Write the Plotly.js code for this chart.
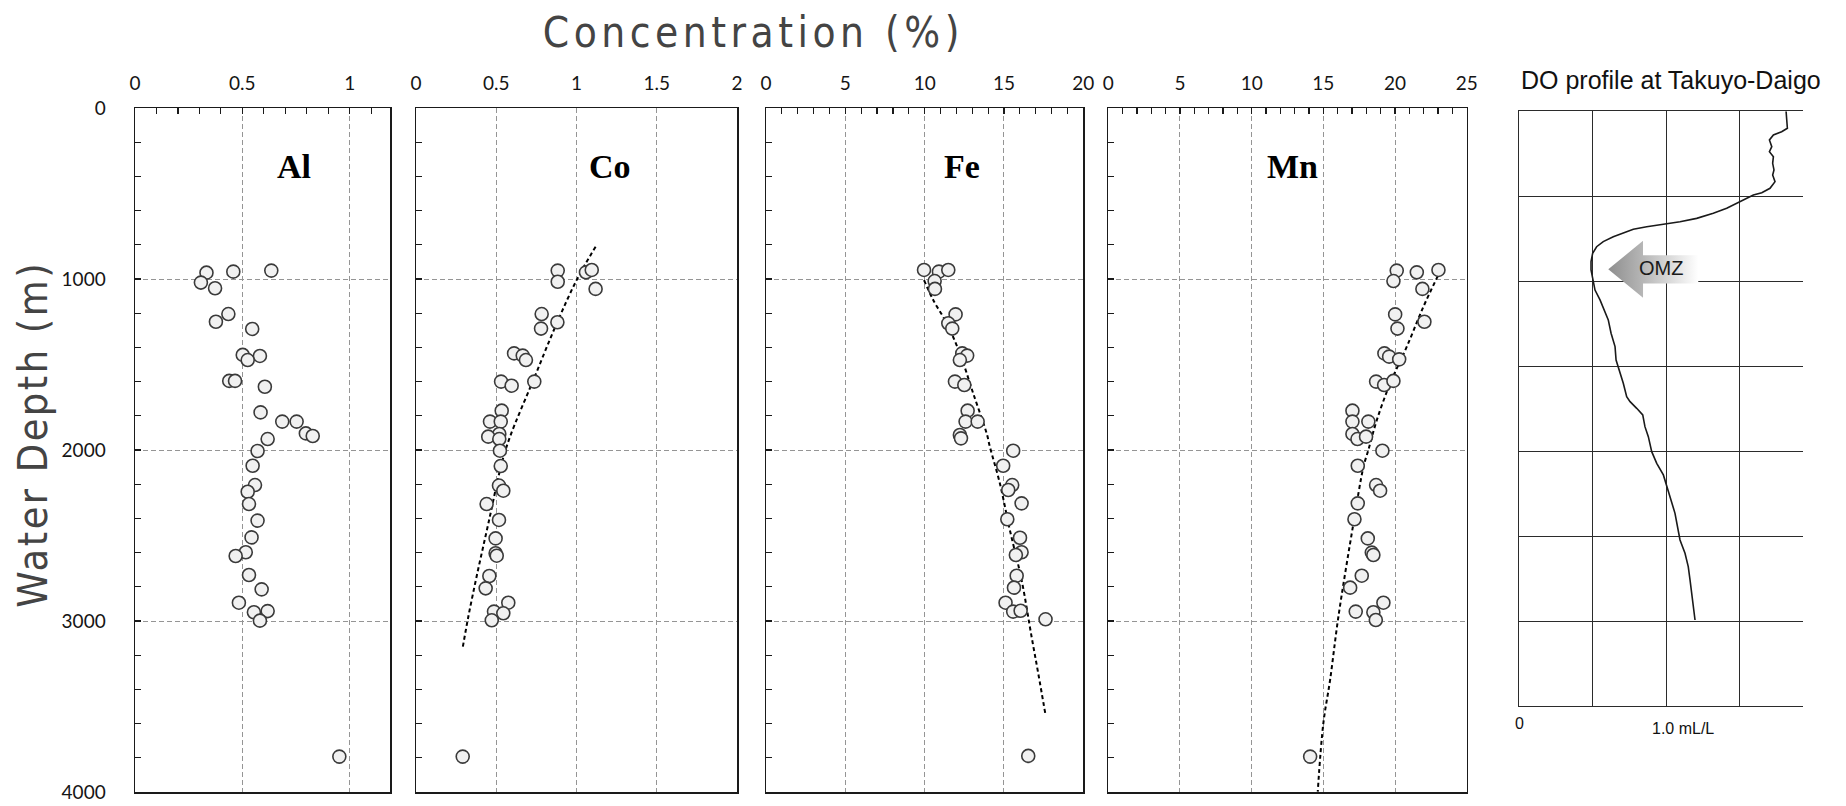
<!DOCTYPE html>
<html>
<head>
<meta charset="utf-8">
<script src="https://cdn.plot.ly/plotly-3.0.1.min.js"></script>
<style>
  html, body { margin: 0; padding: 0; background: #fff; }
  #chart { width: 1846px; height: 806px; }
  .annotation[data-index="0"] text { letter-spacing: 4.5px; }
  .annotation[data-index="1"] text { letter-spacing: 2.5px; }
</style>
</head>
<body>
<div id="chart"></div>
<script>
// ---------------- data ----------------
const depthAl = [963, 957, 951, 1021, 1054, 1205, 1250, 1292, 1444, 1450, 1474, 1596, 1596, 1630, 1780, 1834, 1834, 1903, 1918, 1936, 2006, 2092, 2205, 2244, 2316, 2413, 2511, 2598, 2620, 2731, 2815, 2893, 2949, 2942, 2998, 3793];
const al = [0.333, 0.458, 0.635, 0.307, 0.373, 0.435, 0.377, 0.546, 0.502, 0.582, 0.525, 0.439, 0.466, 0.605, 0.585, 0.686, 0.753, 0.796, 0.828, 0.618, 0.571, 0.548, 0.559, 0.525, 0.531, 0.571, 0.543, 0.516, 0.469, 0.531, 0.590, 0.484, 0.554, 0.618, 0.582, 0.952];

const depthCo = [951, 1016, 961, 947, 1058, 1205, 1253, 1290, 1435, 1448, 1474, 1600, 1624, 1600, 1770, 1834, 1834, 1906, 1922, 1936, 2004, 2094, 2208, 2238, 2316, 2409, 2517, 2604, 2618, 2737, 2809, 2893, 2945, 2955, 2996, 3793];
const co = [0.883, 0.883, 1.059, 1.095, 1.119, 0.783, 0.881, 0.779, 0.611, 0.665, 0.685, 0.530, 0.596, 0.737, 0.534, 0.461, 0.528, 0.519, 0.450, 0.519, 0.523, 0.528, 0.517, 0.544, 0.440, 0.517, 0.496, 0.496, 0.503, 0.457, 0.434, 0.575, 0.486, 0.544, 0.472, 0.291];
const coTrendX = [1.119, 1.001, 0.877, 0.731, 0.586, 0.534, 0.451, 0.382, 0.326, 0.289];
const coTrendD = [811, 1006, 1259, 1591, 1922, 2078, 2429, 2721, 2975, 3166];

const depthFe = [947, 957, 947, 1012, 1058, 1207, 1259, 1290, 1435, 1448, 1474, 1600, 1620, 1770, 1834, 1834, 1912, 1932, 2004, 2092, 2205, 2234, 2312, 2405, 2513, 2598, 2614, 2735, 2805, 2893, 2945, 2940, 2990, 3789];
const fe = [9.96, 10.90, 11.49, 10.63, 10.65, 11.95, 11.49, 11.74, 12.37, 12.68, 12.22, 11.91, 12.50, 12.71, 12.58, 13.34, 12.22, 12.29, 15.58, 14.95, 15.52, 15.27, 16.11, 15.21, 16.01, 16.11, 15.75, 15.80, 15.63, 15.10, 15.58, 16.05, 17.62, 16.53];
const feTrendX = [9.96, 10.54, 11.39, 12.22, 13.06, 13.91, 14.11, 14.74, 15.37, 16.11, 16.74, 17.16, 17.62];
const feTrendD = [1006, 1123, 1259, 1435, 1669, 1903, 1981, 2195, 2468, 2760, 3092, 3306, 3550];

const depthMn = [951, 1012, 961, 947, 1058, 1207, 1250, 1290, 1435, 1454, 1470, 1600, 1620, 1596, 1770, 1834, 1834, 1906, 1936, 1922, 2004, 2092, 2205, 2238, 2312, 2405, 2517, 2600, 2614, 2735, 2805, 2893, 2945, 2949, 2994, 3793];
const mn = [20.12, 19.89, 21.52, 23.03, 21.91, 20.01, 22.05, 20.17, 19.26, 19.59, 20.29, 18.68, 19.24, 19.89, 17.03, 17.03, 18.14, 17.03, 17.38, 17.98, 19.12, 17.40, 18.68, 18.96, 17.40, 17.17, 18.10, 18.38, 18.49, 17.68, 16.87, 19.19, 17.26, 18.49, 18.66, 14.08];
const mnTrendX = [22.99, 21.98, 20.82, 19.66, 18.73, 18.14, 17.80, 17.10, 16.05, 15.47, 15.0, 14.61];
const mnTrendD = [982, 1162, 1396, 1610, 1825, 2000, 2098, 2429, 2975, 3345, 3598, 3998];

// DO profile (mL/L) vs depth (m)
const doVal = [1.813, 1.822, 1.783, 1.727, 1.700, 1.716, 1.700, 1.727, 1.722, 1.731, 1.722, 1.738, 1.704, 1.648, 1.591, 1.546, 1.478, 1.410, 1.319, 1.206, 1.093, 0.980, 0.867, 0.776, 0.708, 0.640, 0.572, 0.527, 0.500, 0.489, 0.489, 0.500, 0.516, 0.550, 0.577, 0.606, 0.625, 0.652, 0.659, 0.681, 0.708, 0.731, 0.754, 0.799, 0.840, 0.855, 0.878, 0.901, 0.935, 0.980, 1.003, 1.025, 1.059, 1.082, 1.093, 1.127, 1.149, 1.161, 1.172, 1.183, 1.195];
const doDepth = [0, 100, 120, 139, 169, 208, 238, 267, 306, 345, 375, 414, 453, 479, 493, 512, 541, 571, 600, 630, 650, 663, 679, 694, 718, 738, 767, 797, 836, 885, 934, 993, 1052, 1110, 1169, 1228, 1306, 1385, 1464, 1522, 1601, 1680, 1709, 1748, 1787, 1856, 1915, 2003, 2072, 2140, 2199, 2268, 2366, 2464, 2523, 2601, 2680, 2758, 2837, 2915, 2994];

const elementNames = ['Al', 'Co', 'Fe', 'Mn'];
const xTickLabelsDO = ['0', '1.0 mL/L'];
const xTickValsDO = [0, 1.0];

// OMZ arrow (in DO-panel units)
const omzDepth = 930;
const omzTip = 0.606, omzHeadBase = 0.842, omzTail = 1.217;
const omzHeadHalf = 168, omzShaftHalf = 83;

// ---------------- styling ----------------
const W = 1846, H = 806;
const fx = px => px / W;
const fy = py => 1 - py / H;

const tickFont = { family: 'Lato, "Open Sans", sans-serif', size: 19, color: '#151515' };
const gridStyle = { showgrid: true, gridcolor: '#959595', gridwidth: 1, griddash: '5px,3px' };
const lineStyle = { showline: true, mirror: true, linecolor: '#1a1a1a', linewidth: 1.5, zeroline: false };
const titleFont = '"Liberation Sans Narrow", "DejaVu Sans Condensed", Roboto, sans-serif';

const yDom = [fy(792), fy(108)];
const panels = [
  { x: [135, 390], range: [0, 1.188], dtick: 0.5, minor: 0.1 },
  { x: [416, 737], range: [0, 2], dtick: 0.5, minor: null },
  { x: [766, 1083.3], range: [0, 20], dtick: 5, minor: 1 },
  { x: [1108.3, 1466.7], range: [0, 25], dtick: 5, minor: 1 }
];

const layout = {
  width: W, height: H, autosize: false,
  margin: { l: 0, r: 0, t: 0, b: 0, pad: 0 },
  paper_bgcolor: '#fff', plot_bgcolor: 'rgba(0,0,0,0)',
  showlegend: false,
  annotations: [],
  shapes: []
};

panels.forEach((p, i) => {
  const s = i === 0 ? '' : String(i + 1);
  layout['xaxis' + s] = Object.assign({
    domain: [fx(p.x[0]), fx(p.x[1])], range: p.range, anchor: 'y' + s, side: 'top',
    tick0: 0, dtick: p.dtick, tickfont: tickFont, ticklabelstandoff: 9,
    ticks: p.minor ? 'inside' : '', ticklen: 6, tickcolor: '#1a1a1a', tickwidth: 1.2,
    fixedrange: true
  }, gridStyle, lineStyle);
  if (p.minor) {
    layout['xaxis' + s].minor = { dtick: p.minor, ticks: 'inside', ticklen: 6, tickcolor: '#1a1a1a', tickwidth: 1.2, showgrid: false };
  }
  layout['yaxis' + s] = Object.assign({
    domain: yDom, range: [4000, 0], anchor: 'x' + s,
    tick0: 0, dtick: 1000, tickfont: tickFont, showticklabels: i === 0, ticklabelstandoff: 24,
    ticks: 'inside', ticklen: 6, tickcolor: '#1a1a1a', tickwidth: 1.2,
    minor: { dtick: 200, ticks: 'inside', ticklen: 6, tickcolor: '#1a1a1a', tickwidth: 1.2, showgrid: false },
    fixedrange: true
  }, gridStyle, lineStyle);
});

// DO panel axes
layout.xaxis5 = {
  domain: [fx(1519), fx(1803.3)], range: [0, 1.930], anchor: 'y5', side: 'bottom',
  tick0: 0, dtick: 0.5, showgrid: true, gridcolor: '#2b2b2b', gridwidth: 1,
  showline: true, mirror: true, linecolor: '#2b2b2b', linewidth: 1,
  showticklabels: false, ticks: '', zeroline: false, fixedrange: true
};
layout.yaxis5 = {
  domain: [fy(706), fy(111.3)], range: [3500, 0], anchor: 'x5',
  tick0: 0, dtick: 500, showgrid: true, gridcolor: '#2b2b2b', gridwidth: 1,
  showline: true, mirror: false, linecolor: '#2b2b2b', linewidth: 1,
  showticklabels: false, ticks: '', zeroline: false, fixedrange: true
};

// Titles (annotation 0 and 1 get letter spacing via CSS)
layout.annotations.push({
  text: 'Concentration (%)', xref: 'paper', yref: 'paper', x: fx(753), y: fy(32),
  xanchor: 'center', yanchor: 'middle', showarrow: false,
  font: { family: titleFont, size: 42, color: '#444444' }
});
layout.annotations.push({
  text: 'Water Depth (m)', xref: 'paper', yref: 'paper', x: fx(33), y: fy(435),
  xanchor: 'center', yanchor: 'middle', showarrow: false, textangle: -90,
  font: { family: titleFont, size: 41, color: '#444444' }
});

// Element labels
const labelPos = [0.624, 0.604, 0.617, 0.513];
elementNames.forEach((name, i) => {
  const s = i === 0 ? '' : String(i + 1);
  layout.annotations.push({
    text: '<b>' + name + '</b>', xref: 'x' + s + ' domain', yref: 'y' + s + ' domain',
    x: labelPos[i], y: 0.915, xanchor: 'center', yanchor: 'middle', showarrow: false,
    font: { family: '"Liberation Serif", "Times New Roman", serif', size: 34, color: '#000' }
  });
});

// DO panel texts
layout.annotations.push({
  text: 'DO profile at Takuyo-Daigo', xref: 'paper', yref: 'paper', x: fx(1519), y: fy(80),
  xanchor: 'left', yanchor: 'middle', showarrow: false,
  font: { family: '"Liberation Sans", Arial, sans-serif', size: 25, color: '#111' }
});
xTickLabelsDO.forEach((t, i) => {
  layout.annotations.push({
    text: t, xref: 'x5', yref: 'paper', x: xTickValsDO[i], y: fy(i === 0 ? 723 : 728),
    xanchor: i === 0 ? 'center' : 'left', xshift: i === 0 ? 0 : -16, yanchor: 'middle', showarrow: false,
    font: { family: '"Liberation Sans", Arial, sans-serif', size: 16, color: '#111' }
  });
});
layout.annotations.push({
  text: 'OMZ', xref: 'x5', yref: 'y5', x: 0.964, y: omzDepth - 5,
  xanchor: 'center', yanchor: 'middle', showarrow: false,
  font: { family: '"Liberation Sans", Arial, sans-serif', size: 20, color: '#1a1a1a' }
});

// ---------------- traces ----------------
const markerStyle = { symbol: 'circle', size: 13, color: '#f1f1f1', line: { color: '#3a3a3a', width: 1.6 } };
const trendStyle = { color: '#000', width: 2, dash: '4px,3px', shape: 'spline' };

const data = [];
const seriesX = [al, co, fe, mn];
const seriesD = [depthAl, depthCo, depthFe, depthMn];
const trends = [null, [coTrendX, coTrendD], [feTrendX, feTrendD], [mnTrendX, mnTrendD]];

seriesX.forEach((xs, i) => {
  const s = i === 0 ? '' : String(i + 1);
  if (trends[i]) {
    data.push({ type: 'scatter', mode: 'lines', x: trends[i][0], y: trends[i][1], xaxis: 'x' + s, yaxis: 'y' + s, line: trendStyle, hoverinfo: 'skip' });
  }
  data.push({ type: 'scatter', mode: 'markers', x: xs, y: seriesD[i], xaxis: 'x' + s, yaxis: 'y' + s, marker: markerStyle, name: elementNames[i], cliponaxis: false });
});

// DO curve
data.push({ type: 'scatter', mode: 'lines', x: doVal, y: doDepth, xaxis: 'x5', yaxis: 'y5', line: { color: '#1a1a1a', width: 1.6 }, name: 'DO' });

// OMZ arrow
const d = omzDepth;
data.push({
  type: 'scatter', mode: 'lines', xaxis: 'x5', yaxis: 'y5',
  x: [omzTip, omzHeadBase, omzHeadBase, omzTail, omzTail, omzHeadBase, omzHeadBase, omzTip],
  y: [d, d - omzHeadHalf, d - omzShaftHalf, d - omzShaftHalf, d + omzShaftHalf, d + omzShaftHalf, d + omzHeadHalf, d],
  fill: 'toself', line: { width: 0, color: 'rgba(0,0,0,0)' },
  fillcolor: '#bdbdbd',
  fillgradient: { type: 'horizontal', colorscale: [[0, '#8e8e8e'], [0.4, '#b8b8b8'], [1, '#ffffff']] },
  hoverinfo: 'skip'
});

Plotly.newPlot('chart', data, layout, { displayModeBar: false, staticPlot: true });
</script>
</body>
</html>
